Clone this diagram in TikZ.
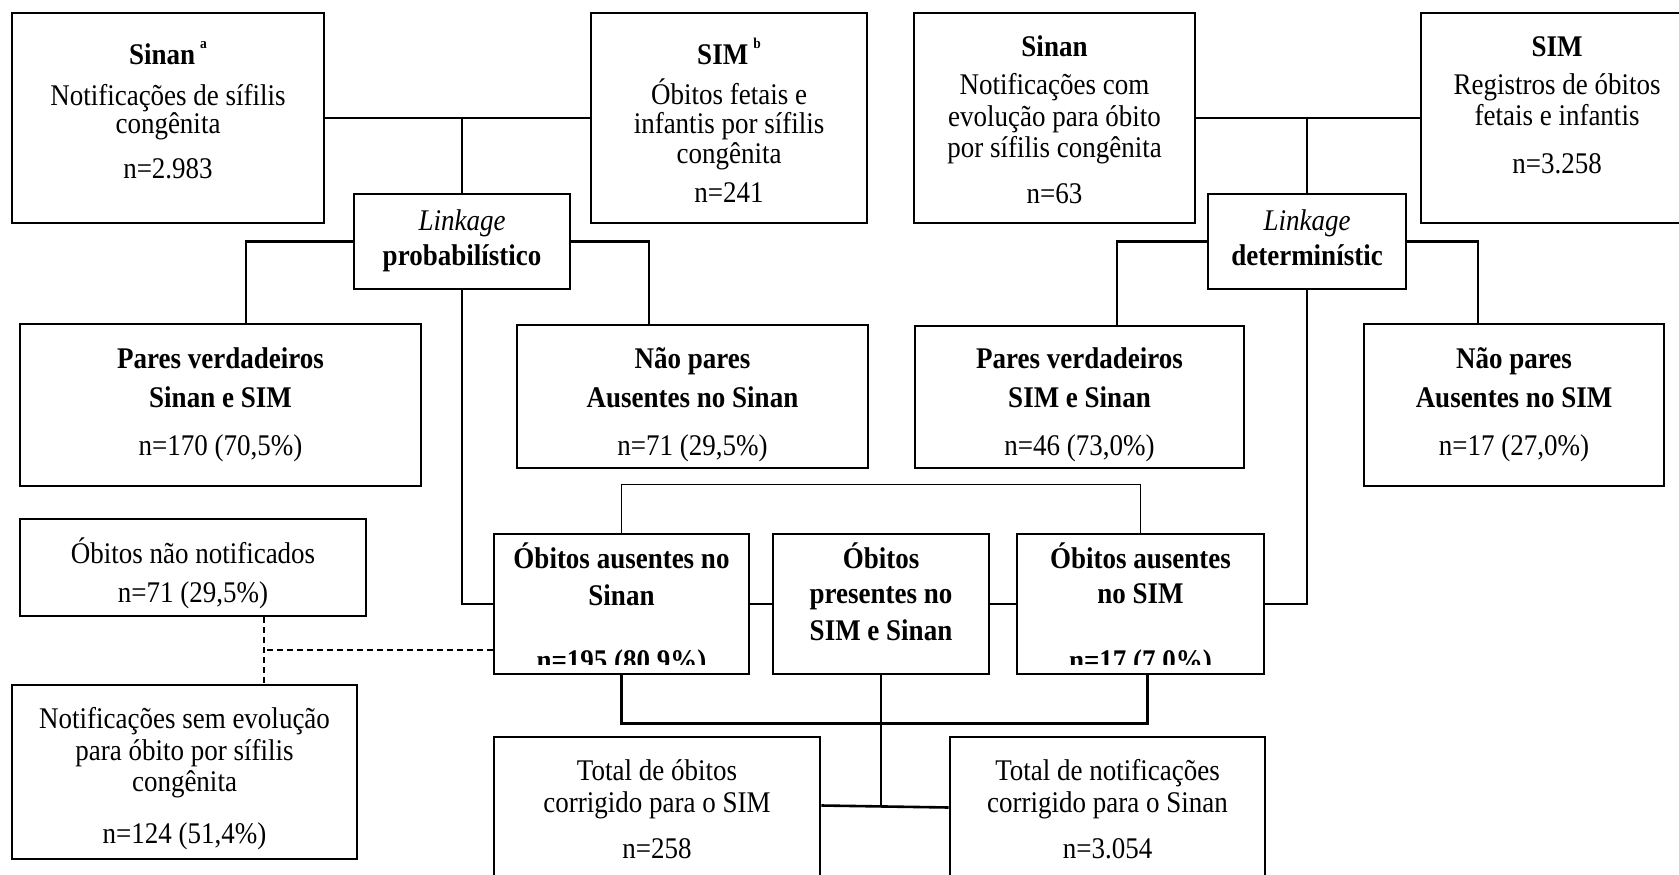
\documentclass[tikz,border=0pt]{standalone}
\usepackage{fontspec}
\setmainfont[FakeStretch=0.9]{Liberation Serif}
\begin{document}
\begin{tikzpicture}[x=1pt,y=-1pt,
  box/.style={draw, line width=2.6pt, inner sep=0pt},
  conn/.style={line width=2.6pt},
  thinline/.style={line width=1.1pt},
  dashline/.style={line width=1.5pt, dash pattern=on 6pt off 4pt},
  txt/.style={anchor=base, inner sep=0pt, font=\fontsize{30}{34}\selectfont}]
\useasboundingbox (0,0) rectangle (1679,875);
\clip (0,0) rectangle (1679,875);
\fill[white] (0,0) rectangle (1679,875);

% boxes
\node[box, minimum width=312pt, minimum height=210pt] (sinanA) at (168,118) {};
\node[box, minimum width=276pt, minimum height=210pt] (simB) at (729,118) {};
\node[box, minimum width=281pt, minimum height=210pt] (sinanC) at (1054.5,118) {};
\node[box, minimum width=272pt, minimum height=210pt] (simD) at (1557,118) {};
\node[box, minimum width=216pt, minimum height=95pt] (linkP) at (462,241.5) {};
\node[box, minimum width=198pt, minimum height=95pt] (linkD) at (1307,241.5) {};
\node[box, minimum width=401pt, minimum height=162pt] (paresA) at (220.5,405) {};
\node[box, minimum width=351pt, minimum height=143pt] (naoA) at (692.5,396.5) {};
\node[box, minimum width=329pt, minimum height=142pt] (paresB) at (1079.5,397) {};
\node[box, minimum width=300pt, minimum height=162pt] (naoB) at (1514,405) {};
\node[box, minimum width=346pt, minimum height=97pt] (obNot) at (193,567.5) {};
\node[box, minimum width=345pt, minimum height=174pt] (notSem) at (184.5,772) {};
\node[box, minimum width=255pt, minimum height=140pt] (ausSinan) at (621.5,604) {};
\node[box, minimum width=216pt, minimum height=140pt] (presentes) at (881,604) {};
\node[box, minimum width=247pt, minimum height=140pt] (ausSIM) at (1140.5,604) {};
\node[box, minimum width=326pt, minimum height=153pt] (totOb) at (657,813.5) {};
\node[box, minimum width=315pt, minimum height=153pt] (totNot) at (1107.5,813.5) {};

% texts
\node[txt] (t1a) at (168,65) {\textbf{Sinan}\,\raisebox{17pt}{\fontsize{15}{15}\selectfont\textbf{a}}};
\node[txt] (t1b) at (168,105) {Notificações de sífilis};
\node[txt] (t1c) at (168,133) {congênita};
\node[txt] (t1d) at (168,178) {n=2.983};

\node[txt] (t2a) at (729,65) {\textbf{SIM}\,\raisebox{17pt}{\fontsize{15}{15}\selectfont\textbf{b}}};
\node[txt] (t2b) at (729,104) {Óbitos fetais e};
\node[txt] (t2c) at (729,133) {infantis por sífilis};
\node[txt] (t2d) at (729,163) {congênita};
\node[txt] (t2e) at (729,202) {n=241};

\node[txt] (t3a) at (1054.5,57) {\textbf{Sinan}};
\node[txt] (t3b) at (1054.5,95) {Notificações com};
\node[txt] (t3c) at (1054.5,126) {evolução para óbito};
\node[txt] (t3d) at (1054.5,157) {por sífilis congênita};
\node[txt] (t3e) at (1054.5,203) {n=63};

\node[txt] (t4a) at (1557,57) {\textbf{SIM}};
\node[txt] (t4b) at (1557,95) {Registros de óbitos};
\node[txt] (t4c) at (1557,125) {fetais e infantis};
\node[txt] (t4d) at (1557,173) {n=3.258};

\node[txt] (t5a) at (462,230) {\textit{Linkage}};
\node[txt] (t5b) at (462,265) {\textbf{probabilístico}};
\node[txt] (t6a) at (1307,230) {\textit{Linkage}};
\node[txt] (t6b) at (1307,265) {\textbf{determinístic}};

\node[txt] (t7a) at (220.5,368) {\textbf{Pares verdadeiros}};
\node[txt] (t7b) at (220.5,407) {\textbf{Sinan e SIM}};
\node[txt] (t7c) at (220.5,455) {n=170 (70,5\%)};

\node[txt] (t8a) at (692.5,368) {\textbf{Não pares}};
\node[txt] (t8b) at (692.5,407) {\textbf{Ausentes no Sinan}};
\node[txt] (t8c) at (692.5,455) {n=71 (29,5\%)};

\node[txt] (t9a) at (1079.5,368) {\textbf{Pares verdadeiros}};
\node[txt] (t9b) at (1079.5,407) {\textbf{SIM e Sinan}};
\node[txt] (t9c) at (1079.5,455) {n=46 (73,0\%)};

\node[txt] (t10a) at (1514,368) {\textbf{Não pares}};
\node[txt] (t10b) at (1514,407) {\textbf{Ausentes no SIM}};
\node[txt] (t10c) at (1514,455) {n=17 (27,0\%)};

\node[txt] (t11a) at (193,563) {Óbitos não notificados};
\node[txt] (t11b) at (193,602) {n=71 (29,5\%)};

\node[txt] (t12a) at (184.5,728) {Notificações sem evolução};
\node[txt] (t12b) at (184.5,760) {para óbito por sífilis};
\node[txt] (t12c) at (184.5,791) {congênita};
\node[txt] (t12d) at (184.5,843) {n=124 (51,4\%)};

\node[txt] (t13a) at (621.5,568) {\textbf{Óbitos ausentes no}};
\node[txt] (t13b) at (621.5,605) {\textbf{Sinan}};
\begin{scope}
\clip ([yshift=11pt]ausSinan.south west) rectangle (ausSinan.north east);
\node[txt] (t13c) at (621.5,670) {\textbf{n=195 (80.9\%)}};
\end{scope}

\node[txt] (t14a) at (881,568) {\textbf{Óbitos}};
\node[txt] (t14b) at (881,603) {\textbf{presentes no}};
\node[txt] (t14c) at (881,640) {\textbf{SIM e Sinan}};

\node[txt] (t15a) at (1140.5,568) {\textbf{Óbitos ausentes}};
\node[txt] (t15b) at (1140.5,603) {\textbf{no SIM}};
\begin{scope}
\clip ([yshift=11pt]ausSIM.south west) rectangle (ausSIM.north east);
\node[txt] (t15c) at (1140.5,670) {\textbf{n=17 (7.0\%)}};
\end{scope}

\node[txt] (t16a) at (657,780) {Total de óbitos};
\node[txt] (t16b) at (657,812) {corrigido para o SIM};
\node[txt] (t16c) at (657,858) {n=258};

\node[txt] (t17a) at (1107.5,780) {Total de notificações};
\node[txt] (t17b) at (1107.5,812) {corrigido para o Sinan};
\node[txt] (t17c) at (1107.5,858) {n=3.054};

% connectors
\draw[conn] (sinanA.east) -- (simB.west);
\draw[conn] (linkP.north) -- (linkP.north |- sinanA.east);
\draw[conn] (sinanC.east) -- (simD.west);
\draw[conn] (linkD.north) -- (linkD.north |- sinanC.east);

\draw[conn] (linkP.west) -| ([xshift=25.5pt]paresA.north);
\draw[conn] (linkP.east) -| ([xshift=-43.5pt]naoA.north);
\draw[conn] (linkD.west) -| ([xshift=37.5pt]paresB.north);
\draw[conn] (linkD.east) -| ([xshift=-36pt]naoB.north);

\draw[conn] (linkP.south) |- (ausSinan.west);
\draw[conn] (linkD.south) |- (ausSIM.east);
\draw[conn] (ausSinan.east) -- (presentes.west);
\draw[conn] (presentes.east) -- (ausSIM.west);

\draw[thinline] (ausSinan.north) -- ++(0,-48) -| (ausSIM.north);
\draw[conn] (ausSinan.south) -- ++(0,48) -| ([xshift=7pt]ausSIM.south);

\coordinate (hj) at ([yshift=8pt]totOb.east);
\draw[conn] (hj) -- ([yshift=6pt]totNot.west);
\draw[conn] (presentes.south) -- (presentes.south |- hj);

\coordinate (dv) at ([xshift=71pt]obNot.south);
\coordinate (dh) at ([yshift=-46pt]ausSinan.west);
\draw[dashline] (dv) -- (dv |- notSem.north);
\draw[dashline] (dh) -- (dh -| dv);
\end{tikzpicture}
\end{document}
